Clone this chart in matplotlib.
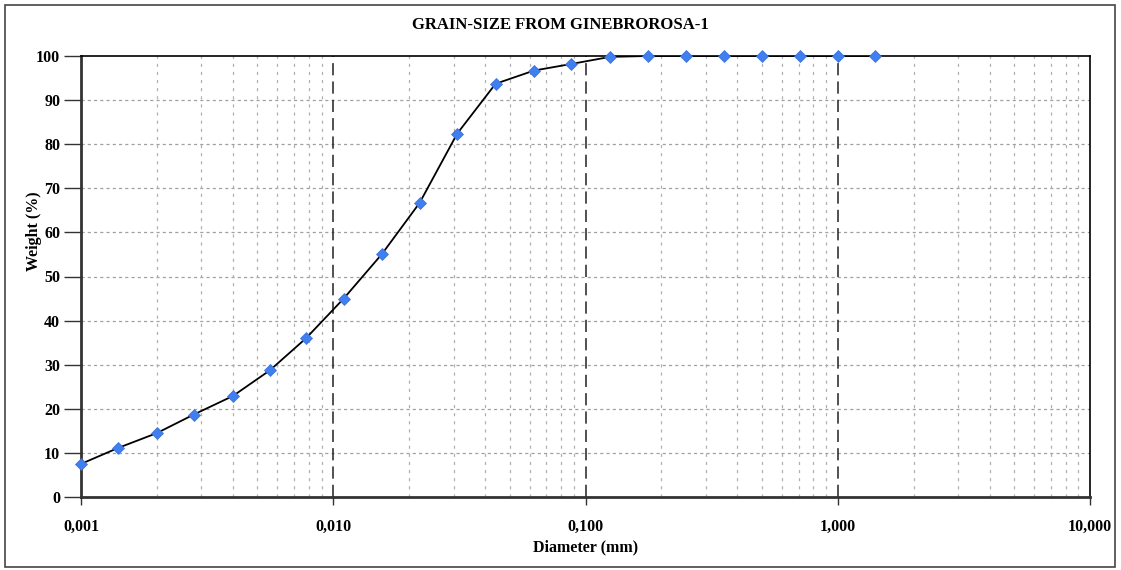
import matplotlib
matplotlib.use("Agg")
import matplotlib.pyplot as plt
from matplotlib.ticker import FixedLocator, NullFormatter
from matplotlib.patches import Rectangle

diameter_mm = [0.001, 0.0014, 0.002, 0.0028, 0.004, 0.0056, 0.0078, 0.011, 0.0156,
               0.022, 0.031, 0.044, 0.0625, 0.088, 0.125, 0.177, 0.25, 0.354,
               0.5, 0.707, 1.0, 1.41]
weight_pct = [7.5, 11.1, 14.5, 18.7, 22.9, 28.7, 36.0, 45.0, 55.1,
              66.7, 82.4, 93.7, 96.7, 98.2, 99.8, 100.0, 100.0, 100.0,
              100.0, 100.0, 100.0, 100.0]
x_major = [0.001, 0.01, 0.1, 1.0, 10.0]
x_labels = ["0,001", "0,010", "0,100", "1,000", "10,000"]
y_ticks = list(range(0, 101, 10))
title = "GRAIN-SIZE FROM GINEBROROSA-1"

plt.rcParams['font.family'] = ['Liberation Serif', 'DejaVu Serif']
plt.rcParams['font.weight'] = 'bold'

fig = plt.figure(figsize=(11.21, 5.70), dpi=100)
W, H = 1121, 570
ax = fig.add_axes([81 / W, 1 - 497 / H, (1090 - 81) / W, (497 - 56) / H])

ax.set_xscale('log')
ax.set_xlim(0.001, 10)
ax.set_ylim(0, 100)

# grid: y major dashed gray
for y in y_ticks[1:-1]:
    ax.axhline(y, color='#a0a0a0', lw=0.9, ls=(0, (2.5, 2.5)), zorder=1)
# x minor dotted gray
for dec in [0.001, 0.01, 0.1, 1.0]:
    for k in range(2, 10):
        ax.axvline(dec * k, color='#b0b0b0', lw=0.9, ls=(0, (2.5, 4)), zorder=1)
# x major dashed dark
for xm in x_major[1:-1]:
    ax.axvline(xm, color='#222222', lw=1.1, ls=(0, (8, 4)), zorder=1)

ax.plot(diameter_mm, weight_pct, color='black', lw=1.3, zorder=3)
ax.plot(diameter_mm, weight_pct, ls='none', marker='D', ms=6.5,
        mfc='#3f7ff2', mec='#3a6fd0', mew=0.5, zorder=4, clip_on=False)

ax.xaxis.set_major_locator(FixedLocator(x_major))
ax.set_xticklabels(x_labels)
ax.xaxis.set_minor_locator(FixedLocator([]))
ax.xaxis.set_minor_formatter(NullFormatter())
ax.set_yticks(y_ticks)

ax.tick_params(axis='both', which='major', direction='out', length=6, width=1,
               color='#333333', labelsize=11.5)
ax.tick_params(axis='y', pad=3, length=12)
ax.tick_params(axis='x', pad=10)
for lbl in ax.get_xticklabels() + ax.get_yticklabels():
    lbl.set_fontweight('bold')

for s in ['left', 'bottom']:
    ax.spines[s].set_linewidth(2.0)
    ax.spines[s].set_color('#333333')
for s in ['top', 'right']:
    ax.spines[s].set_linewidth(1.2)
    ax.spines[s].set_color('black')

ax.set_xlabel("Diameter (mm)", fontsize=11.5, fontweight='bold', labelpad=3)
fig.text(34 / W, 1 - 231 / H, "Weight (%)", rotation=90, ha='center', va='center',
         fontsize=11.5, fontweight='bold')
fig.text(0.5, 1 - 25 / H, title, ha='center', va='center', fontsize=12, fontweight='bold')

fig.patches.append(Rectangle((5 / W, 3 / H), 1110 / W, 562 / H, transform=fig.transFigure,
                             fill=False, edgecolor='#444444', lw=1.2))

fig.savefig("out.png", dpi=100)
